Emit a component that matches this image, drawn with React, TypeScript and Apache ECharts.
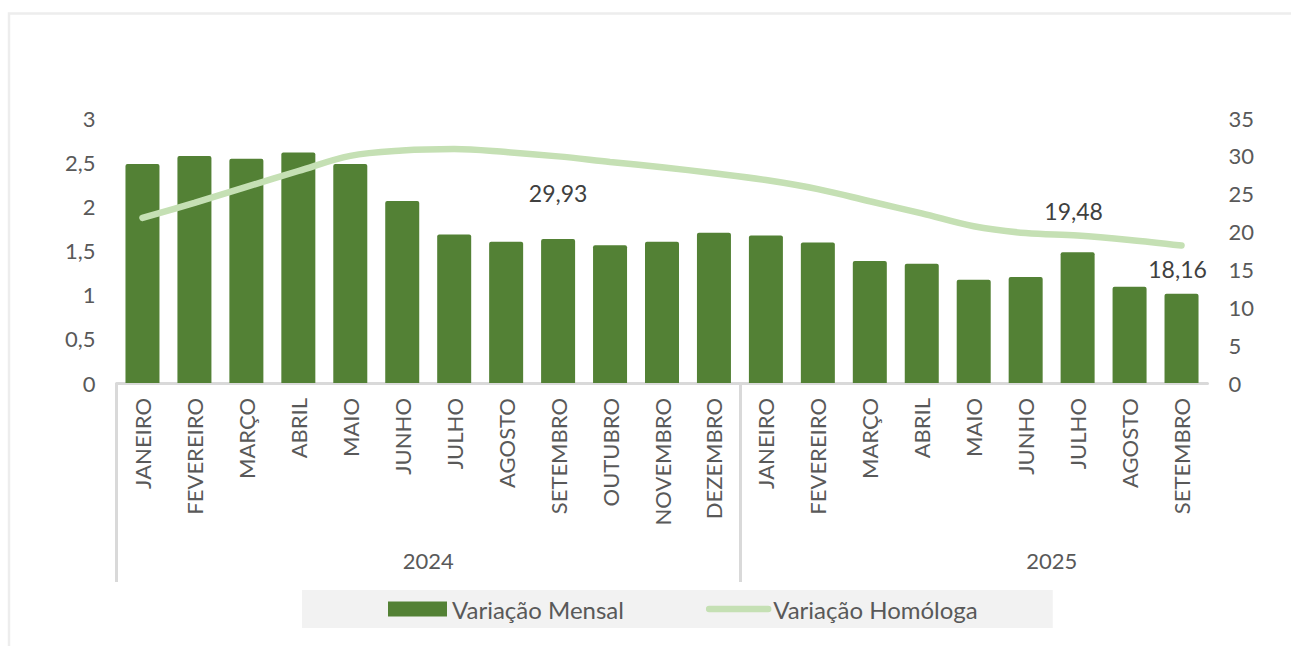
import React, { useEffect, useRef } from "react";
import * as echarts from "echarts";

const months2024 = ["JANEIRO", "FEVEREIRO", "MARÇO", "ABRIL", "MAIO", "JUNHO", "JULHO", "AGOSTO", "SETEMBRO", "OUTUBRO", "NOVEMBRO", "DEZEMBRO"];
const months2025 = ["JANEIRO", "FEVEREIRO", "MARÇO", "ABRIL", "MAIO", "JUNHO", "JULHO", "AGOSTO", "SETEMBRO"];
const years = ["2024", "2025"];
const categories = [...months2024, ...months2025];

const mensal2024 = [2.48, 2.57, 2.54, 2.61, 2.48, 2.06, 1.68, 1.6, 1.63, 1.56, 1.6, 1.7];
const mensal2025 = [1.67, 1.59, 1.38, 1.35, 1.17, 1.2, 1.48, 1.09, 1.01];
const homologa2024 = [21.8, 23.8, 25.9, 28.0, 30.0, 30.7, 30.9, 30.5, 29.93, 29.2, 28.5, 27.7];
const homologa2025 = [26.8, 25.6, 24.0, 22.4, 20.7, 19.8, 19.48, 18.9, 18.16];
const labelledPoints = ["29,93", "19,48", "18,16"];

const mensal = [...mensal2024, ...mensal2025];
const homologa = [...homologa2024, ...homologa2025];

const FONT = "Lato, 'Noto Sans', sans-serif";
const TXT = "#595959";

export default function App() {
  const ref = useRef<HTMLDivElement>(null);
  useEffect(() => {
    if (!ref.current) return;
    const chart = echarts.init(ref.current, null, { renderer: "svg" });
    const n = categories.length;
    const sepIdx = months2024.length - 0.5;
    const labelCfg: Record<number, any> = {
      8: { offset: [0, 37] },
      18: { offset: [-4, -25] },
      20: { offset: [-4, 23] },
    };
    const lineData = homologa.map((v, i) => {
      const txt = v.toFixed(2).replace(".", ",");
      if (labelCfg[i] && labelledPoints.includes(txt)) {
        return {
          value: v,
          symbol: "circle",
          symbolSize: 0,
          label: {
            show: true,
            position: "inside",
            offset: labelCfg[i].offset,
            formatter: txt,
            color: "#404040",
            fontSize: 23,
            fontFamily: FONT,
          },
        };
      }
      return v;
    });
    chart.setOption({
      animation: false,
      backgroundColor: "#ffffff",
      textStyle: { fontFamily: FONT },
      graphic: [
        {
          type: "rect",
          shape: { x: 9, y: 13.5, width: 1400, height: 800 },
          style: { fill: "none", stroke: "#ededed", lineWidth: 2.5 },
          silent: true,
        },
      ],
      grid: { left: 116.5, right: 83.5, top: 118, bottom: 263, containLabel: false, outerBoundsMode: "none" },
      legend: {
        left: 302,
        top: 590,
        padding: [7, 75, 7, 86],
        backgroundColor: "#f2f2f2",
        itemWidth: 59,
        itemHeight: 15,
        itemGap: 82,
        textStyle: { color: TXT, fontSize: 24, fontFamily: FONT },
        data: [
          { name: "Variação Mensal", icon: "rect" },
          {
            name: "Variação Homóloga",
            lineStyle: { width: 6.5, color: "#c5e0b4", cap: "round" },
            itemStyle: { opacity: 0 },
          },
        ],
      },
      xAxis: [
        {
          type: "category",
          data: categories,
          axisLine: { show: true, lineStyle: { color: "#d9d9d9", width: 3 } },
          axisTick: { show: false },
          axisLabel: {
            rotate: 90,
            interval: 0,
            margin: 15,
            color: TXT,
            fontSize: 22,
            fontFamily: FONT,
          },
        },
        {
          type: "value",
          min: -0.5,
          max: n - 0.5,
          position: "bottom",
          axisLine: { show: false },
          splitLine: { show: false },
          axisTick: {
            show: true,
            customValues: [-0.5, sepIdx],
            length: 199,
            lineStyle: { color: "#d9d9d9", width: 3 },
          },
          axisLabel: {
            show: true,
            customValues: [(months2024.length - 1) / 2, 17.5],
            formatter: (v: number) => (v < sepIdx ? years[0] : years[1]),
            margin: 166,
            color: TXT,
            fontSize: 22,
            fontFamily: FONT,
          },
        },
      ],
      yAxis: [
        {
          type: "value",
          min: 0,
          max: 3,
          interval: 0.5,
          splitLine: { show: false },
          axisLine: { show: false },
          axisTick: { show: false },
          axisLabel: {
            margin: 21,
            color: TXT,
            fontSize: 22,
            fontFamily: FONT,
            formatter: (v: number) => String(v).replace(".", ","),
          },
        },
        {
          type: "value",
          min: 0,
          max: 35,
          interval: 5,
          position: "right",
          splitLine: { show: false },
          axisLine: { show: false },
          axisTick: { show: false },
          axisLabel: { margin: 21, color: TXT, fontSize: 22, fontFamily: FONT },
        },
      ],
      series: [
        {
          name: "Variação Mensal",
          type: "bar",
          xAxisIndex: 0,
          yAxisIndex: 0,
          data: mensal,
          barWidth: 34,
          itemStyle: { color: "#538135", borderRadius: [2, 2, 0, 0] },
        },
        {
          name: "Variação Homóloga",
          type: "line",
          xAxisIndex: 0,
          yAxisIndex: 1,
          data: lineData,
          smooth: 0.35,
          symbol: "none",
          lineStyle: { color: "#c5e0b4", width: 6.5, cap: "round" },
          itemStyle: { color: "#c5e0b4" },
          z: 3,
        },
      ],
    });
    return () => chart.dispose();
  }, []);
  return (
    <div
      ref={ref}
      style={{ position: "fixed", left: 0, top: 0, width: 1291, height: 646 }}
    />
  );
}
